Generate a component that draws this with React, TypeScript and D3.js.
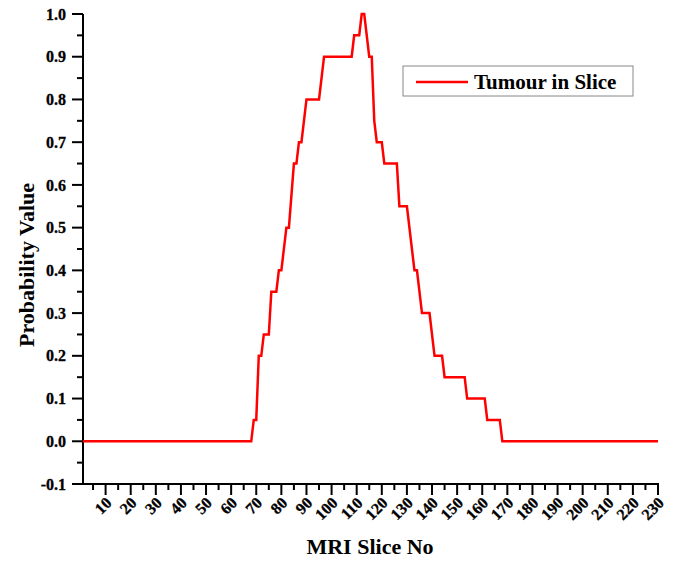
import React from "react";
import * as d3 from "d3";

const sliceNo = [1, 68, 69, 70, 71, 72, 73, 75, 76, 78, 79, 80, 82, 83, 85, 86, 87, 88, 90, 95, 97, 108, 109, 111, 112, 113, 115, 116, 117, 118, 120, 121, 126, 127, 130, 133, 134, 136, 139, 141, 144, 145, 153, 154, 161, 162, 167, 168, 230];
const probability = [0, 0, 0.05, 0.05, 0.2, 0.2, 0.25, 0.25, 0.35, 0.35, 0.4, 0.4, 0.5, 0.5, 0.65, 0.65, 0.7, 0.7, 0.8, 0.8, 0.9, 0.9, 0.95, 0.95, 1.0, 1.0, 0.9, 0.9, 0.75, 0.7, 0.7, 0.65, 0.65, 0.55, 0.55, 0.4, 0.4, 0.3, 0.3, 0.2, 0.2, 0.15, 0.15, 0.1, 0.1, 0.05, 0.05, 0, 0];
const xTickLabels = [10, 20, 30, 40, 50, 60, 70, 80, 90, 100, 110, 120, 130, 140, 150, 160, 170, 180, 190, 200, 210, 220, 230];
const yTickLabels = [-0.1, 0, 0.1, 0.2, 0.3, 0.4, 0.5, 0.6, 0.7, 0.8, 0.9, 1.0];
const seriesName = "Tumour in Slice";

export default function App() {
  const W = 682, H = 561;
  const x = d3.scaleLinear().domain([1, 230]).range([83, 658]);
  const y = d3.scaleLinear().domain([-0.1, 1.0]).range([484, 14]);
  const pts = sliceNo.map((s, i) => [s, probability[i]] as [number, number]);
  const line = d3.line<[number, number]>().x(d => x(d[0])).y(d => y(d[1]));
  const font = "'Liberation Serif', 'Times New Roman', serif";
  const xMinor = d3.range(5, 231, 5);
  const yMinor = d3.range(-0.05, 1.0, 0.1);
  return (
    <svg width={W} height={H} style={{ position: "absolute", left: 0, top: 0, background: "#fff" }} fontFamily={font} fontWeight="bold">
      <rect x={0} y={0} width={W} height={H} fill="#fff" />
      {/* y axis */}
      <line x1={x(1)} x2={x(1)} y1={y(-0.1) + 1} y2={y(1.0)} stroke="#000" strokeWidth={2} />
      {yTickLabels.map(v => (
        <g key={"y" + v}>
          <line x1={x(1) - 11} x2={x(1)} y1={y(v)} y2={y(v)} stroke="#000" strokeWidth={2} />
          <text x={x(1) - 17} y={y(v)} dy="0.35em" textAnchor="end" fontSize={16} stroke="#000" strokeWidth={0.3}>{v.toFixed(1)}</text>
        </g>
      ))}
      {yMinor.map(v => (
        <line key={"ym" + v} x1={x(1) - 6} x2={x(1)} y1={y(v)} y2={y(v)} stroke="#000" strokeWidth={2} />
      ))}
      {/* x axis */}
      <line x1={x(1) - 1} x2={x(230) + 1} y1={y(-0.1)} y2={y(-0.1)} stroke="#000" strokeWidth={2} />
      {xMinor.map(v => (
        <line key={"xm" + v} x1={x(v)} x2={x(v)} y1={y(-0.1)} y2={y(-0.1) + (v % 10 === 0 ? 11 : 6)} stroke="#000" strokeWidth={2} />
      ))}
      {xTickLabels.map(v => (
        <text key={"xl" + v} transform={`translate(${x(v) + 3},${y(-0.1) + 16}) rotate(-45)`} textAnchor="end" dy="0.35em" fontSize={16} stroke="#000" strokeWidth={0.3}>{v}</text>
      ))}
      {/* titles */}
      <text x={370} y={554} textAnchor="middle" fontSize={22}>MRI Slice No</text>
      <text transform={`translate(34,265) rotate(-90)`} textAnchor="middle" fontSize={22}>Probability Value</text>
      {/* data line */}
      <path d={line(pts) || ""} fill="none" stroke="#ff0000" strokeWidth={2.5} strokeLinejoin="miter" />
      {/* legend */}
      <rect x={403} y={66} width={230} height={30} fill="#fff" stroke="#888" strokeWidth={1} />
      <line x1={416} x2={468} y1={82} y2={82} stroke="#ff0000" strokeWidth={2.5} />
      <text x={474} y={82} dy="0.35em" fontSize={21}>{seriesName}</text>
    </svg>
  );
}
